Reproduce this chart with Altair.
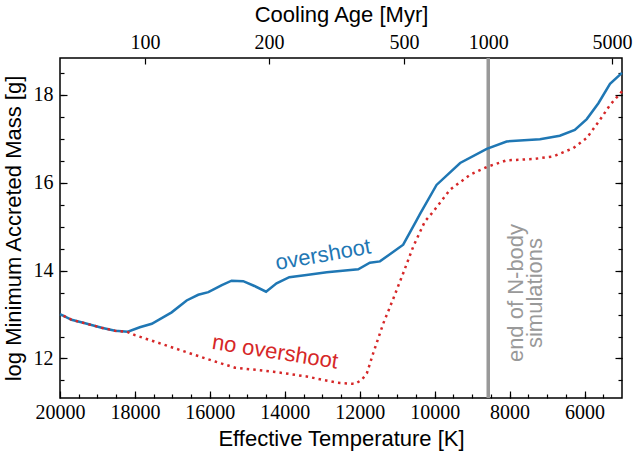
import altair as alt
import pandas as pd

# Minimum accreted mass vs. effective temperature (with / without overshoot)
teff_over = [20000, 19690, 19330, 18890, 18530, 18190, 17870, 17550, 17020, 16620,
             16310, 16040, 15680, 15420, 15110, 14810, 14500, 14220, 13880, 13420,
             12880, 12040, 11730, 11460, 10840, 10480, 10390, 9950, 9320, 8610,
             8080, 7190, 6660, 6260, 5940, 5630, 5320, 5000]
logm_over = [13.01, 12.88, 12.80, 12.70, 12.63, 12.61, 12.71, 12.79, 13.05, 13.32,
             13.45, 13.51, 13.67, 13.77, 13.76, 13.65, 13.52, 13.71, 13.85, 13.90,
             13.96, 14.03, 14.18, 14.21, 14.59, 15.15, 15.29, 15.95, 16.45, 16.77,
             16.94, 16.99, 17.07, 17.20, 17.45, 17.81, 18.25, 18.50]

teff_noov = [20000, 19690, 19330, 18890, 18530, 18190, 18000, 17460, 16930, 16400,
             15860, 15330, 14880, 14310, 13420, 12620, 12130, 11950, 11810, 11640,
             11370, 11100, 10840, 10570, 10260, 10040, 9590, 9060, 8610, 8080,
             7370, 6830, 6300, 5940, 5590, 5320, 5000]
logm_noov = [13.01, 12.88, 12.80, 12.70, 12.63, 12.60, 12.53, 12.38, 12.23, 12.08,
             11.93, 11.79, 11.75, 11.70, 11.59, 11.45, 11.42, 11.51, 11.66, 12.12,
             12.80, 13.37, 13.94, 14.55, 15.12, 15.34, 15.84, 16.18, 16.36, 16.51,
             16.54, 16.60, 16.79, 17.02, 17.43, 17.77, 18.08]

# Cooling-age ticks (Myr) and the effective temperature each one sits at
age_ticks = [100, 200, 500, 1000, 5000]
age_tick_teff = [17730, 14420, 10820, 8570, 5270]

# End of the N-body simulations (1 Gyr)
nbody_end_teff = [8570]

teff_major = list(range(20000, 5999, -2000))
teff_minor = list(range(19500, 5001, -500))
logm_major = [12, 14, 16, 18]
logm_minor = [11.5 + 0.5 * i for i in range(15)]

over_df = pd.DataFrame({"teff": teff_over, "logm": logm_over})
noov_df = pd.DataFrame({"teff": teff_noov, "logm": logm_noov})
nbody_df = pd.DataFrame({"teff": nbody_end_teff})

xs = alt.Scale(domain=[5000, 20000], reverse=True, nice=False, zero=False)
ys = alt.Scale(domain=[11.1, 18.84], nice=False, zero=False)

LABEL_FONT = "Liberation Serif"
TITLE_FONT = "Liberation Sans"

common = dict(domain=False, grid=False, tickColor="black", tickWidth=1.2,
              labelFont=LABEL_FONT, labelFontSize=20, labelColor="black",
              labelOverlap=False, labelFlush=False,
              titleFont=TITLE_FONT, titleFontSize=22, titleFontWeight="normal",
              titleColor="black")

age_expr = " : ".join(f"datum.value == {t} ? '{a}'" for t, a in zip(age_tick_teff, age_ticks)) + " : ''"

ax_x_major = alt.Axis(orient="bottom", values=teff_major, format="d", offset=-7, tickSize=7,
                      labelPadding=4, title="Effective Temperature [K]", titlePadding=6, **common)
ax_x_minor = alt.Axis(orient="bottom", values=teff_minor, labels=False, offset=-4, tickSize=4,
                      title=None, **common)
ax_x_top = alt.Axis(orient="top", values=age_tick_teff, labelExpr=age_expr, offset=-6, tickSize=6,
                    labelPadding=6, title="Cooling Age [Myr]", titlePadding=6, **common)

ax_y_major = alt.Axis(orient="left", values=logm_major, format="d", offset=-7, tickSize=7,
                      labelPadding=7, title="log Minimum Accreted Mass [g]", titlePadding=8, **common)
ax_y_minor = alt.Axis(orient="left", values=logm_minor, labels=False, offset=-4, tickSize=4,
                      title=None, **common)
ax_y_right_major = alt.Axis(orient="right", values=logm_major, labels=False, offset=-7, tickSize=7,
                            title=None, **common)
ax_y_right_minor = alt.Axis(orient="right", values=logm_minor, labels=False, offset=-4, tickSize=4,
                            title=None, **common)

nbody_rule = alt.Chart(nbody_df).mark_rule(color="#999999", strokeWidth=3.5).encode(
    x=alt.X("teff:Q", scale=xs, axis=ax_x_top)
)

over_line = alt.Chart(over_df).mark_line(color="#1f77b4", strokeWidth=2.5).encode(
    x=alt.X("teff:Q", scale=xs, axis=ax_x_major),
    y=alt.Y("logm:Q", scale=ys, axis=ax_y_major),
    order="teff:Q",
)

noov_line = alt.Chart(noov_df).mark_line(color="#d62728", strokeWidth=2.5,
                                         strokeDash=[2.5, 4.1]).encode(
    x=alt.X("teff:Q", scale=xs, axis=ax_x_minor),
    y=alt.Y("logm:Q", scale=ys, axis=ax_y_minor),
    order="teff:Q",
)

# invisible layers that carry the right-hand tick marks
right_major = alt.Chart(over_df).mark_point(opacity=0).encode(
    x=alt.X("teff:Q", scale=xs, axis=None),
    y=alt.Y("logm:Q", scale=ys, axis=ax_y_right_major),
)
right_minor = alt.Chart(over_df).mark_point(opacity=0).encode(
    x=alt.X("teff:Q", scale=xs, axis=None),
    y=alt.Y("logm:Q", scale=ys, axis=ax_y_right_minor),
)

def label(text, teff, logm, color, angle, **kw):
    df = pd.DataFrame({"teff": [teff], "logm": [logm], "text": [text]})
    return alt.Chart(df).mark_text(color=color, angle=angle, font=TITLE_FONT, fontSize=22,
                                   align="center", baseline="middle", **kw).encode(
        x=alt.X("teff:Q", scale=xs, axis=None),
        y=alt.Y("logm:Q", scale=ys, axis=None),
        text="text:N",
    )

over_label = label("overshoot", 12980, 14.36, "#1f77b4", 350)
noov_label = label("no overshoot", 14260, 12.15, "#d62728", 9)
nbody_label = label("end of N-body\nsimulations", 7830, 13.49, "#999999", 270,
                    lineBreak="\n", lineHeight=19)

chart = alt.layer(
    nbody_rule, over_line, noov_line, right_major, right_minor,
    over_label, noov_label, nbody_label,
).resolve_axis(x="independent", y="independent").properties(
    width=562, height=340, autosize="none",
    padding={"left": 60, "top": 58, "right": 13, "bottom": 59},
).configure_view(stroke="black", strokeWidth=1.5)

chart.save("out.html", embed_options={"renderer": "svg", "actions": False})
